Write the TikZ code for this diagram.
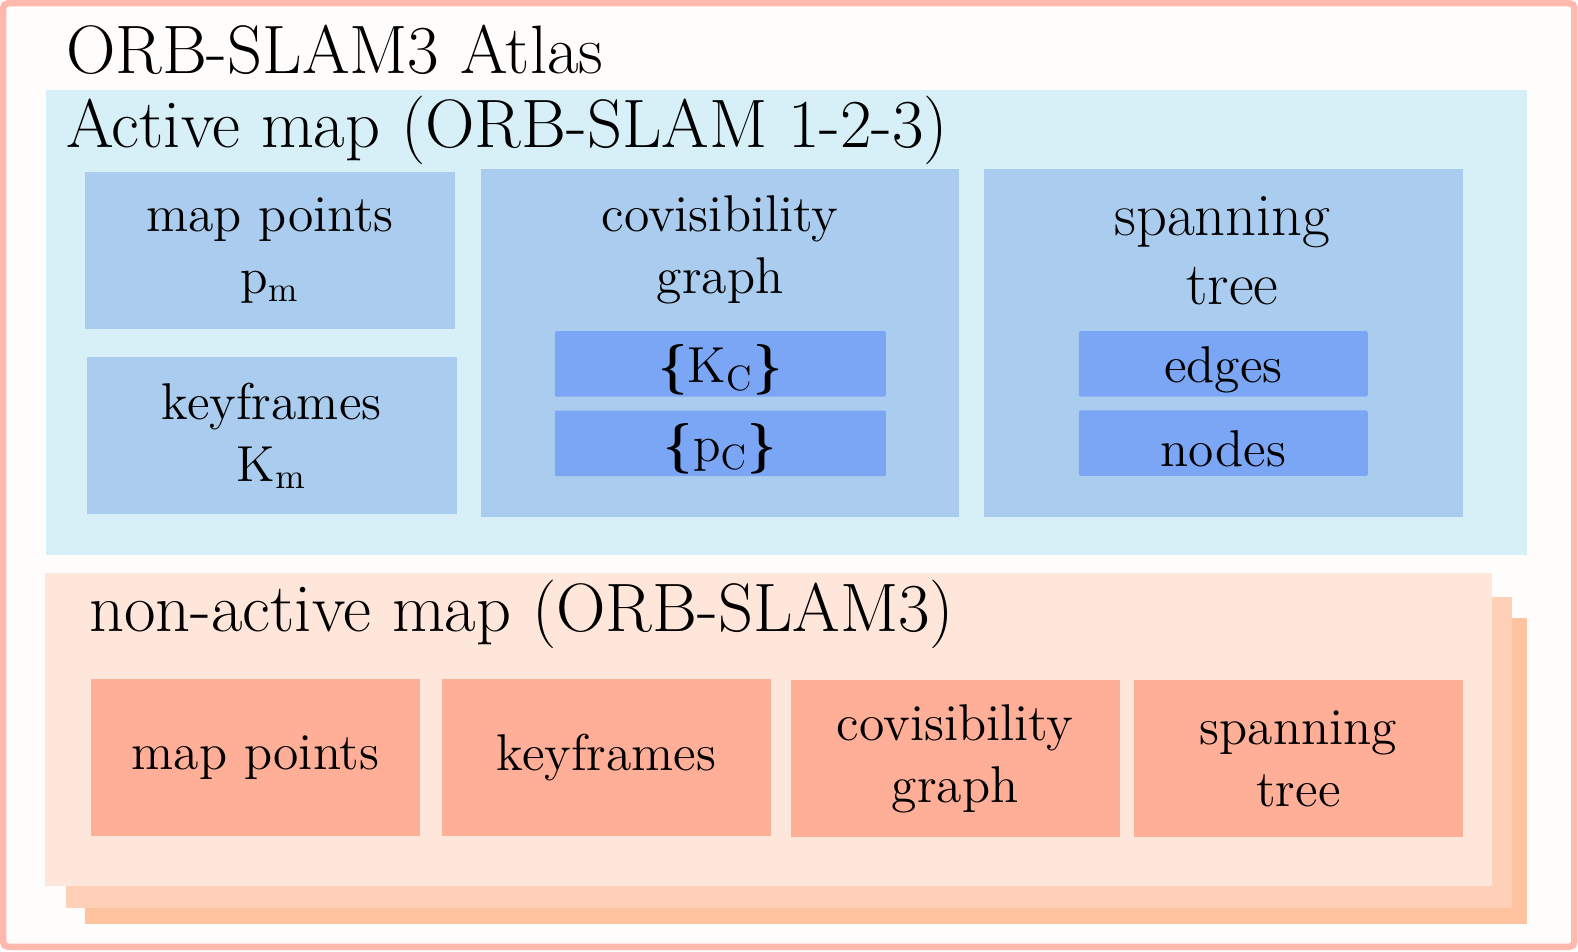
\documentclass[tikz,border=0pt]{standalone}
\usepackage{amsmath}
\usepackage{tikz}
\usetikzlibrary{positioning}
\definecolor{frameline}{HTML}{FFB8AD}
\definecolor{framebg}{HTML}{FFFDFB}
\definecolor{activebg}{HTML}{D7F0F8}
\definecolor{bluebox}{HTML}{AACCEE}
\definecolor{deepblue}{HTML}{7BA6F5}
\definecolor{stackfront}{HTML}{FFE6DA}
\definecolor{stackmid}{HTML}{FFD0B8}
\definecolor{stackback}{HTML}{FFC3A0}
\definecolor{salmonbox}{HTML}{FFAF97}
\newcommand{\sunk}[1]{\raisebox{-1.7pt}[\height][\depth]{#1}}
\newcommand{\setof}[1]{$\boldsymbol{\{}\mathrm{#1}\boldsymbol{\}}$}
\tikzset{
  >=latex,
  x=0.01cm, y=-0.01cm,
}
\tikzstyle{every node}=[font=\fontsize{14.7}{17.6}\selectfont,inner sep=0pt,outer sep=0pt]
\tikzstyle{heading}=[anchor=base west,font=\fontsize{19.5}{23}\selectfont]
\tikzstyle{bigger}=[anchor=base,font=\fontsize{17.2}{20}\selectfont]
\tikzstyle{activetile}=[fill=bluebox,align=center]
\tikzstyle{subtile}=[fill=deepblue,rounded corners=0.02cm,minimum width=3.31cm,minimum height=0.655cm]
\tikzstyle{oldtile}=[fill=salmonbox,align=center,minimum width=3.29cm,minimum height=1.565cm]

\begin{document}
\begin{tikzpicture}
    \useasboundingbox (0,0) rectangle (1578,951);
    \node[draw=frameline,line width=0.065cm,fill=framebg,rounded corners=0.05cm,
      minimum width=15.705cm,minimum height=9.43cm] (atlas) at (788.75,475) {};
    \node[heading] (atlastitle) at (66,73) {ORB-SLAM3 Atlas};
    % active map
    \node[fill=activebg,minimum width=14.81cm,minimum height=4.65cm] (active) at (786.5,322.5) {};
    \node[heading] (activetitle) at (66,147) {Active map (ORB-SLAM 1-2-3)};
    \node[activetile,minimum width=3.7cm,minimum height=1.567cm] (points) at (270,250.65) {map points\\$\mathrm{p_m}$};
    \node[activetile,minimum width=3.7cm,minimum height=1.567cm] (frames) at (271.7,435.65) {keyframes\\$\mathrm{K_m}$};
    \node[activetile,minimum width=4.78cm,minimum height=3.48cm] (covis) at (720,343) {};
    \node[anchor=base] (covistitle) at (720,231.7) {covisibility};
    \node[anchor=base] (covistitleb) at (720,293.3) {graph};
    \node[subtile] (kc) at (720.35,363.85) {\sunk{\setof{K_C}}};
    \node[subtile] (pc) at (720.35,443.35) {\sunk{\setof{p_C}}};
    \node[activetile,minimum width=4.787cm,minimum height=3.48cm] (span) at (1223.35,343) {};
    \node[bigger] (spantitle) at (1222.5,235) {spanning};
    \node[bigger] (spantitleb) at (1232.5,304) {tree};
    \node[subtile,minimum width=2.887cm] (edges) at (1223.35,363.85) {\sunk{edges}};
    \node[subtile,minimum width=2.887cm] (nodes) at (1223.35,443.2) {\sunk{nodes}};
    % non-active maps, stacked
    \node[fill=stackback,minimum width=14.415cm,minimum height=3.06cm] (back) at (806.25,771) {};
    \node[fill=stackmid,minimum width=14.46cm,minimum height=3.11cm] (mid) at (789,752.5) {};
    \node[fill=stackfront,minimum width=14.47cm,minimum height=3.13cm] (front) at (768.5,729.5) {};
    \node[heading] (fronttitle) at (89,631) {non-active map (ORB-SLAM3)};
    \node[oldtile] (oldpoints) at (255.5,757.5) {map points};
    \node[oldtile] (oldframes) at (606.5,757.5) {keyframes};
    \node[oldtile] (oldcovis) at (955.2,758.7) {covisibility\\graph};
    \node[oldtile] (oldspan) at (1298.4,758.7) {spanning\\tree};
\end{tikzpicture}
\end{document}
